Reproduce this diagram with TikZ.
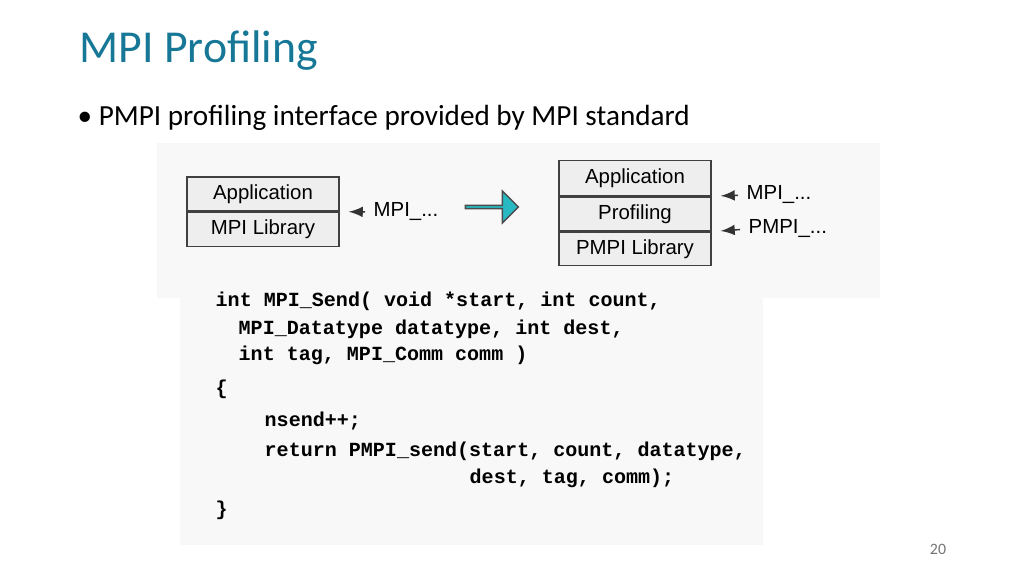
\documentclass[tikz,border=0pt]{standalone}
\usepackage{fontspec}
\setmainfont{Carlito}
\newfontfamily\diagfont{Liberation Sans}
\newfontfamily\codefont{Liberation Mono}
\usetikzlibrary{positioning, shapes.arrows}
\definecolor{titleteal}{RGB}{22,120,150}
\definecolor{arrowteal}{RGB}{40,185,195}
\definecolor{boxgray}{RGB}{238,238,238}
\definecolor{panelgray}{RGB}{248,248,248}
\newcommand\codeln[3]{\node[codeline] (#1) at (#2) {#3};}

\begin{document}
\begin{tikzpicture}[x=0.01cm, y=-0.01cm,
  layer/.style={draw=black!75, fill=boxgray, minimum width=152*0.01cm, inner sep=0pt, font=\diagfont\fontsize{5.8pt}{6pt}\selectfont},
  callname/.style={anchor=west, inner sep=0pt, font=\diagfont\fontsize{5.8pt}{6pt}\selectfont},
  callarrow/.style={-latex, black!80, shorten >=9*0.01cm, shorten <=8*0.01cm},
  codeline/.style={anchor=west, inner sep=0pt, font=\codefont\bfseries\fontsize{5.7pt}{6pt}\selectfont}]
\useasboundingbox (0,0) rectangle (1024,576);

% title and bullet
\node[anchor=west, inner sep=0pt, text=titleteal, font=\fontsize{13pt}{15pt}\selectfont] (title) at (79,51) {MPI Profiling};
\node[anchor=west, inner sep=0pt, font=\fontsize{8.3pt}{10pt}\selectfont] (bullet) at (77,118) {\textbullet\ PMPI profiling interface provided by MPI standard};

% panels
\fill[panelgray] (157,143) rectangle (880,298);
\fill[panelgray] (180,286) rectangle (763,545);

% left stack
\node[layer, minimum height=34*0.01cm] (app) at (263,194) {Application};
\node[layer, minimum height=34*0.01cm, below=0pt of app] (lib) {MPI Library};
\node[callname] (mpi) at (373,212) {MPI\_...};
\draw[callarrow] (mpi.west) -- (app.south east);

% transformation arrow
\node[single arrow, draw=black!70, fill=arrowteal, minimum height=53*0.01cm, minimum width=32*0.01cm, single arrow head extend=6*0.01cm, inner sep=0pt] (turn) at (491,207) {};

% right stack
\node[layer, minimum height=35*0.01cm] (rapp) at (635,178) {Application};
\node[layer, minimum height=34*0.01cm, below=0pt of rapp] (prof) {Profiling};
\node[layer, minimum height=33*0.01cm, below=0pt of prof] (plib) {PMPI Library};
\node[callname] (rmpi) at (746,195) {MPI\_...};
\node[callname] (pmpi) at (748,229) {PMPI\_...};
\draw[callarrow] (rmpi.west) -- (rapp.south east);
\draw[callarrow] (pmpi.west) -- (prof.south east);

% code
\codeln{c1}{215,301}{int MPI\_Send( void *start, int count,}
\codeln{c2}{238,329}{MPI\_Datatype datatype, int dest,}
\codeln{c3}{238,355}{int tag, MPI\_Comm comm )}
\codeln{c4}{215,389}{\{}
\codeln{c5}{264,421}{nsend++;}
\codeln{c6}{264,451}{return PMPI\_send(start, count, datatype,}
\codeln{c7}{469,478}{dest, tag, comm);}
\codeln{c8}{215,510}{\}}

% page number
\node[text=black!55, font=\fontsize{4.5pt}{5pt}\selectfont] (page) at (938,549) {20};
\end{tikzpicture}
\end{document}
